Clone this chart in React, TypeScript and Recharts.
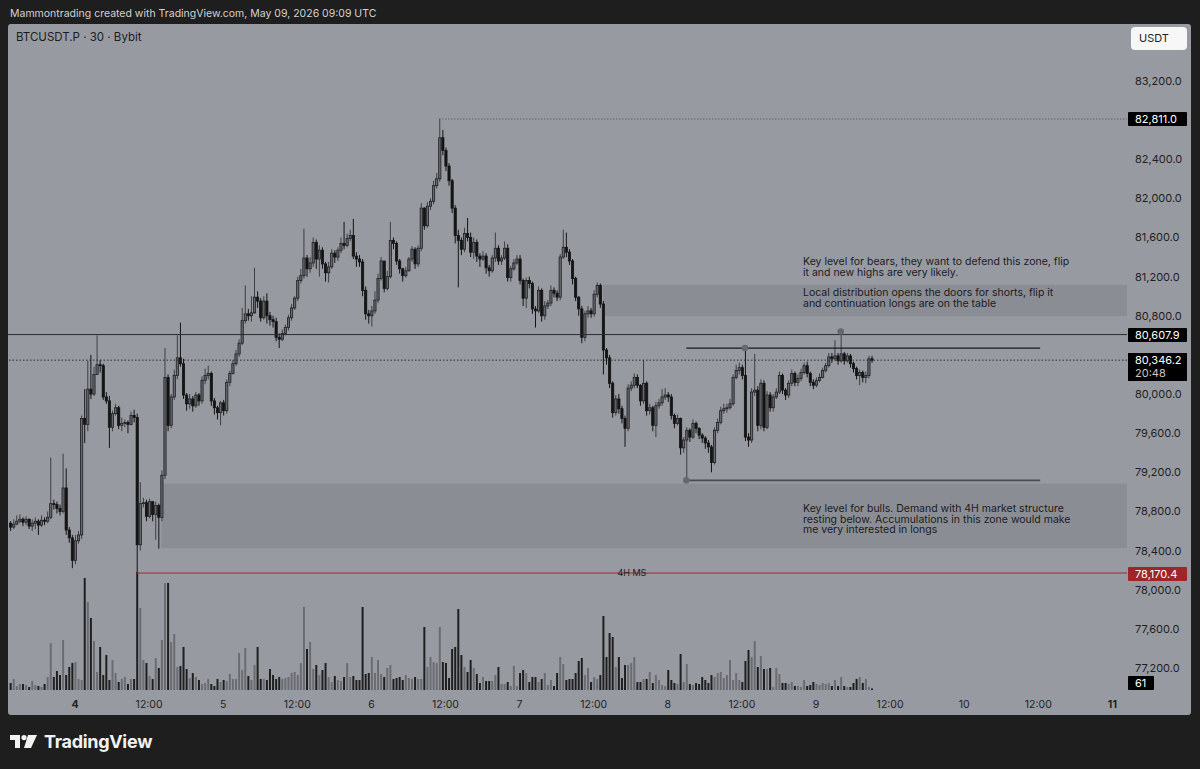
import React from 'react';
import { ComposedChart, Bar, XAxis, YAxis, ReferenceLine, ReferenceArea, ReferenceDot, Cell } from 'recharts';

// BTCUSDT.P 30m candles, t = half-hours from May 4 00:00 UTC
const FIRST_T = -21;
const FIRST_OPEN = 78680;

const closes = [
  78640, 78670, 78700, 78720, 78690, 78720, 78650, 78680, 78700, 78660,
  78710, 78700, 78740, 78880, 78870, 78830, 78800, 79040, 78610, 78530,
  78300, 78500, 78560, 79750, 79690, 80050, 80000, 80200, 80300, 80290,
  79970, 79930, 79660, 79800, 79860, 79680, 79700, 79710, 79690, 79780,
  79760, 78460, 78880, 78890, 78750, 78900, 78770, 78860, 78740, 79170,
  80170, 79680, 79970, 80190, 80370, 80310, 79990, 79900, 79950, 79880,
  79990, 79930, 80140, 80190, 80210, 79930, 79860, 79810, 79910, 79830,
  80120, 80210, 80310, 80410, 80520, 80750, 80820, 80800, 80830, 80990,
  80950, 80780, 80950, 80800, 80760, 80740, 80580, 80560, 80620, 80680,
  80780, 80880, 80980, 81160, 81210, 81390, 81280, 81340, 81550, 81380,
  81470, 81330, 81240, 81300, 81440, 81400, 81470, 81540, 81520, 81590,
  81620, 81410, 81380, 81350, 81060, 80820, 80800, 80850, 80960, 81180,
  81360, 81080, 81200, 81570, 81540, 81360, 81280, 81210, 81260, 81380,
  81480, 81330, 81490, 81900, 81720, 81920, 81970, 82130, 82200, 82620,
  82490, 82330, 82180, 81900, 81620, 81570, 81480, 81640, 81600, 81450,
  81550, 81410, 81380, 81410, 81290, 81260, 81390, 81490, 81360, 81390,
  81490, 81190, 81280, 81340, 81380, 81160, 80980, 81160, 81130, 80870,
  80850, 81060, 80800, 80900, 80930, 81060, 81030, 80990, 81400, 81500,
  81450, 81360, 81180, 80990, 80870, 80580, 80820, 80850, 80820, 81020,
  81110, 80920, 80450, 80370, 80110, 79810, 79950, 79850, 79750, 79650,
  80060, 80090, 80170, 80090, 79930, 80110, 79830, 79860, 79680, 79880,
  79910, 79970, 79990, 79970, 79780, 79700, 79750, 79450, 79530, 79630,
  79560, 79700, 79650, 79580, 79550, 79500, 79460, 79300, 79630, 79710,
  79830, 79850, 79860, 79900, 80170, 80240, 80270, 80190, 79560, 79530,
  80020, 80040, 79680, 80110, 79660, 79990, 79860, 79970, 80020, 80190,
  80040, 79990, 80110, 80210, 80120, 80160, 80220, 80290, 80210, 80120,
  80090, 80140, 80170, 80240, 80290, 80380, 80360, 80390, 80340, 80410,
  80340, 80390, 80310, 80260, 80190, 80220, 80170, 80190, 80360, 80346.2,
];

const highs = [
  78700, 78720, 78760, 78770, 78740, 78750, 78730, 78720, 78740, 78720,
  78760, 78740, 78800, 79350, 78920, 78900, 78870, 79390, 79240, 78640,
  78560, 78560, 78600, 79780, 80050, 80340, 80400, 80280, 80600, 80350,
  80310, 80020, 79980, 79830, 79900, 79880, 79760, 79740, 79730, 79820,
  79840, 79800, 79100, 78940, 78920, 78930, 78900, 78900, 78880, 79220,
  80470, 80200, 80000, 80250, 80600, 80730, 80360, 80010, 80000, 79980,
  80020, 80010, 80180, 80260, 80290, 80230, 79960, 79880, 79930, 79940,
  80150, 80240, 80350, 80450, 80560, 80880, 81110, 80870, 81000, 81290,
  81050, 80980, 81000, 81030, 80840, 80800, 80780, 80620, 80660, 80710,
  80810, 80920, 81000, 81200, 81280, 81690, 81420, 81400, 81600, 81580,
  81520, 81500, 81350, 81350, 81480, 81470, 81500, 81600, 81760, 81640,
  81680, 81790, 81450, 81420, 81380, 81100, 80860, 80900, 81050, 81230,
  81400, 81360, 81260, 81760, 81600, 81560, 81380, 81290, 81300, 81400,
  81510, 81500, 81520, 81950, 81910, 81960, 82000, 82180, 82260, 82811,
  82700, 82520, 82360, 82200, 81930, 81680, 81600, 81700, 81800, 81650,
  81600, 81580, 81440, 81460, 81440, 81320, 81420, 81650, 81520, 81420,
  81560, 81530, 81310, 81380, 81420, 81420, 81180, 81190, 81200, 81150,
  80900, 81100, 81080, 80950, 80960, 81110, 81090, 81060, 81430, 81680,
  81650, 81480, 81380, 81200, 81000, 80900, 80850, 80900, 80880, 81060,
  81140, 81130, 80950, 80470, 80400, 80130, 79990, 80000, 79880, 79780,
  80100, 80130, 80210, 80200, 80100, 80350, 80130, 79900, 79880, 79920,
  79950, 80050, 80060, 80020, 80000, 79800, 79790, 79760, 79560, 79660,
  79650, 79740, 79720, 79660, 79600, 79570, 79530, 79480, 79660, 79750,
  79870, 79900, 79900, 79950, 80200, 80300, 80320, 80300, 80470, 79600,
  80060, 80410, 80080, 80150, 80140, 80030, 80020, 80000, 80060, 80230,
  80210, 80060, 80140, 80250, 80230, 80200, 80260, 80320, 80330, 80230,
  80150, 80170, 80210, 80270, 80320, 80420, 80420, 80550, 80420, 80640,
  80430, 80420, 80410, 80330, 80280, 80250, 80240, 80230, 80390, 80390,
];

const lows = [
  78600, 78620, 78660, 78680, 78650, 78660, 78620, 78600, 78620, 78560,
  78640, 78660, 78680, 78720, 78820, 78780, 78760, 78780, 78560, 78480,
  78220, 78260, 78470, 78520, 79500, 79620, 79950, 79980, 80200, 80220,
  79940, 79900, 79450, 79620, 79780, 79640, 79620, 79660, 79600, 79680,
  79710, 78170, 78400, 78840, 78700, 78730, 78700, 78510, 78420, 78700,
  79130, 79620, 79650, 79940, 80150, 80280, 79950, 79830, 79850, 79820,
  79860, 79880, 79900, 80100, 80150, 79880, 79790, 79740, 79680, 79780,
  79800, 80080, 80200, 80290, 80380, 80500, 80720, 80750, 80740, 80820,
  80880, 80740, 80760, 80720, 80700, 80680, 80540, 80470, 80540, 80600,
  80650, 80750, 80860, 80950, 81130, 81180, 81200, 81240, 81300, 81280,
  81200, 81280, 81150, 81140, 81280, 81340, 81360, 81440, 81480, 81500,
  81560, 81380, 81300, 81300, 81000, 80760, 80720, 80690, 80820, 80930,
  81160, 81040, 81060, 81180, 81480, 81320, 81230, 81150, 81190, 81250,
  81350, 81280, 81300, 81460, 81680, 81700, 81880, 81940, 82100, 82170,
  82440, 82280, 82130, 81850, 81540, 81090, 81420, 81450, 81560, 81400,
  81380, 81350, 81300, 81360, 81230, 81200, 81240, 81350, 81320, 81320,
  81370, 81150, 81150, 81260, 81320, 81120, 80900, 80880, 81080, 80820,
  80680, 80830, 80740, 80760, 80870, 80900, 80990, 80950, 80960, 81380,
  81400, 81320, 81120, 80950, 80800, 80520, 80540, 80780, 80780, 80790,
  80990, 80880, 80200, 80300, 80060, 79760, 79780, 79800, 79700, 79460,
  79620, 80030, 80060, 80060, 79880, 79900, 79780, 79790, 79620, 79560,
  79850, 79880, 79940, 79920, 79740, 79650, 79680, 79380, 79400, 79118,
  79510, 79540, 79600, 79540, 79500, 79440, 79400, 79200, 79280, 79600,
  79690, 79800, 79810, 79840, 79880, 80150, 80200, 80150, 79520, 79460,
  79500, 79980, 79620, 79640, 79620, 79640, 79820, 79820, 79950, 80000,
  80000, 79940, 79960, 80080, 80080, 80080, 80130, 80200, 80170, 80080,
  80050, 80070, 80120, 80160, 80220, 80270, 80320, 80340, 80300, 80320,
  80300, 80320, 80270, 80220, 80150, 80090, 80120, 80110, 80160, 80320,
];

const volumes = [
  280, 440, 160, 240, 240, 200, 120, 360, 200, 160, 120, 240, 520, 1880, 520, 760, 600,
  2000, 600, 920, 1080, 1120, 440, 400, 4480, 3520, 2880,
  1960, 720, 1720, 600, 1400, 400, 1200, 680, 320, 440,
  520, 240, 440, 440, 4720, 3280, 1200, 1080, 560, 440,
  1280, 880, 2000, 4280, 4280, 1920, 2240, 920, 960, 1720,
  840, 480, 680, 520, 400, 240, 280, 440, 240, 160,
  440, 320, 400, 360, 640, 440, 440, 1480, 800,
  1680, 560, 400, 1000, 1720, 440, 440, 400, 840, 600,
  440, 520, 440, 480, 520, 680, 720, 600, 1080, 3320,
  1640, 1920, 840, 1000, 600, 800, 1080, 520, 320, 560,
  400, 360, 520, 1080, 520, 560, 400, 400, 3320, 640,
  680, 1320, 680, 1200, 640, 520, 880, 1000, 440, 480,
  520, 400, 600, 480, 440, 520, 440, 440, 2520, 920,
  1320, 1120, 1080, 2520, 1120, 1080, 480, 1640, 1720, 3240,
  1400, 920, 720, 1200, 880, 640, 280, 520, 360, 360,
  360, 600, 920, 240, 240, 320, 160, 960, 160, 680,
  800, 680, 320, 520, 520, 320, 440, 680, 200, 400,
  160, 680, 1320, 1040, 400, 440, 440, 680, 1160, 1280,
  600, 880, 320, 520, 440, 600, 2960, 1320, 2280, 2120,
  920, 1320, 480, 1000, 1000, 1080, 1320, 320, 320, 440,
  440, 720, 280, 600, 400, 200, 160, 800, 400, 280,
  240, 1440, 320, 1040, 240, 200, 280, 240, 520, 400,
  280, 600, 520, 680, 720, 480, 600, 1200, 400, 680,
  400, 320, 1160, 1600, 1320, 1960, 920, 1360, 840, 840,
  880, 120, 880, 640, 280, 280, 240, 320, 160, 160,
  120, 400, 160, 200, 320, 240, 200, 280, 240, 280,
  160, 400, 160, 520, 160, 120, 120, 280, 440, 520,
  280, 440, 120, 61,
];

// 80,400 and 82,800 sit under the price labels in the reference, so they are left out
const priceTicks = [77200, 77600, 78000, 78400, 78800, 79200, 79600, 80000, 80800, 81200, 81600, 82000, 82400, 83200];
const timeTicks = [0, 24, 48, 72, 96, 120, 144, 168, 192, 216, 240, 264, 288, 312, 336];
const timeLabels = ['4', '12:00', '5', '12:00', '6', '12:00', '7', '12:00', '8', '12:00', '9', '12:00', '10', '12:00', '11'];
const boldLabels = ['4', '11'];

const LAST_PRICE = 80346.2;
const BEAR_LEVEL = 80607.9;
const SESSION_HIGH = 82811;
const MS_4H = 78170.4;
const EQ_HIGHS = 80470;
const EQ_LOW = 79118;
const distZone = [80795, 81118];
const demandZone = [78425, 79085];

const X_DOMAIN: [number, number] = [-21.7, 340.73];
const Y_DOMAIN: [number, number] = [76975, 83772];
const VOL_DOMAIN: [number, number] = [0, 26600];

const BG = '#989aa2';
const ZONE = '#8b8d94';
const BEAR = '#141414';
const BULL_FILL = '#66686e';
const BULL_EDGE = '#1f1f21';
const BULL_WICK = '#3d3e42';
const VOL_UP = '#6a6c72';
const VOL_DOWN = '#1f1f1f';

const data = closes.map((c, i) => {
  const o = i === 0 ? FIRST_OPEN : closes[i - 1];
  const h = Math.max(highs[i], o, c);
  const l = Math.min(lows[i], o, c);
  return { t: FIRST_T + i, open: o, close: c, high: h, low: l, range: [l, h], volume: volumes[i] };
});

const fmt = (v: number) => v.toLocaleString('en-US', { minimumFractionDigits: 1, maximumFractionDigits: 1 });

const Candle = (props: any) => {
  const { x, y, width, height, payload } = props;
  if (!payload || y == null) return null;
  const top = Math.min(y, y + height);
  const h = Math.abs(height);
  const cx = x + width / 2;
  const { open, close, high, low } = payload;
  const span = high - low || 1;
  const toY = (p: number) => top + ((high - p) / span) * h;
  const up = close >= open;
  const b1 = toY(Math.max(open, close));
  const b2 = toY(Math.min(open, close));
  return (
    <g>
      <line x1={cx} x2={cx} y1={top} y2={top + h} stroke={up ? BULL_WICK : BEAR} strokeWidth={1} />
      <rect
        x={cx - 1.1}
        y={b1}
        width={2.2}
        height={Math.max(b2 - b1, 1)}
        fill={up ? BULL_FILL : BEAR}
        stroke={up ? BULL_EDGE : BEAR}
        strokeWidth={0.8}
      />
    </g>
  );
};

const PriceTick = (p: any) => (
  <text x={p.x} y={p.y} dy="0.36em" textAnchor="start" fontSize={11} fill="#1f1f22" fontFamily="Inter, sans-serif">
    {fmt(p.payload.value)}
  </text>
);

const TimeTick = (p: any) => {
  const label = timeLabels[timeTicks.indexOf(p.payload.value)];
  return (
    <text
      x={p.x}
      y={p.y + 10}
      textAnchor="middle"
      fontSize={10.5}
      fontWeight={boldLabels.includes(label) ? 700 : 400}
      fill="#1f1f22"
      fontFamily="Inter, sans-serif"
    >
      {label}
    </text>
  );
};

const abs = (style: React.CSSProperties): React.CSSProperties => ({ position: 'absolute', ...style });

const PriceBox = ({ top, text, bg = '#000', width = 59 }: any) => (
  <div
    style={abs({
      left: 1128,
      top,
      width,
      height: 14,
      background: bg,
      color: '#fff',
      fontSize: 11,
      lineHeight: '14px',
      paddingLeft: 7,
      boxSizing: 'border-box',
      borderRadius: 1,
    })}
  >
    {text}
  </div>
);

const noteStyle: React.CSSProperties = {
  position: 'absolute',
  left: 803,
  fontSize: 10.5,
  lineHeight: '10.5px',
  color: '#1b1b1e',
  whiteSpace: 'pre',
};

export default function App() {
  return (
    <div
      style={{
        position: 'absolute',
        left: 0,
        top: 0,
        width: 1200,
        height: 769,
        background: '#1e1e1e',
        overflow: 'hidden',
        fontFamily: 'Inter, sans-serif',
      }}
    >
      <div style={abs({ left: 10, top: 7, fontSize: 10.5, color: '#d2d2d2', whiteSpace: 'pre' })}>
        Mammontrading created with TradingView.com, May 09, 2026 09:09 UTC
      </div>

      <div style={abs({ left: 8, top: 24, width: 1183, height: 691, background: BG, borderRadius: 3 })}>
        <ComposedChart width={1183} height={691} data={data} margin={{ top: 1, right: 0, bottom: 0, left: 0 }}>
          <XAxis
            xAxisId="p"
            dataKey="t"
            type="number"
            domain={X_DOMAIN}
            allowDataOverflow
            ticks={timeTicks}
            interval={0}
            tick={<TimeTick />}
            axisLine={false}
            tickLine={false}
            height={25}
          />
          <XAxis xAxisId="v" dataKey="t" type="number" domain={X_DOMAIN} allowDataOverflow hide />
          <YAxis
            yAxisId="p"
            orientation="right"
            domain={Y_DOMAIN}
            allowDataOverflow
            ticks={priceTicks}
            interval={0}
            width={64}
            axisLine={false}
            tickLine={false}
            tick={<PriceTick />}
          />
          <YAxis yAxisId="v" domain={VOL_DOMAIN} allowDataOverflow hide />

          <ReferenceArea xAxisId="p" yAxisId="p" x1={171} x2={X_DOMAIN[1]} y1={distZone[0]} y2={distZone[1]} fill={ZONE} fillOpacity={1} stroke="none" />
          <ReferenceArea xAxisId="p" yAxisId="p" x1={28} x2={X_DOMAIN[1]} y1={demandZone[0]} y2={demandZone[1]} fill={ZONE} fillOpacity={1} stroke="none" />

          <Bar xAxisId="v" yAxisId="v" dataKey="volume" barSize={2} isAnimationActive={false}>
            {data.map((d, i) => (
              <Cell key={`v-${i}`} fill={d.close >= d.open ? VOL_UP : VOL_DOWN} />
            ))}
          </Bar>

          <ReferenceLine xAxisId="p" yAxisId="p" y={BEAR_LEVEL} stroke="#2c2c2f" strokeWidth={1} />
          <ReferenceLine xAxisId="p" yAxisId="p" y={LAST_PRICE} stroke="#2c2c2f" strokeWidth={1} strokeDasharray="1.5 2" />
          <ReferenceLine
            xAxisId="p"
            yAxisId="p"
            segment={[{ x: 118, y: SESSION_HIGH }, { x: X_DOMAIN[1], y: SESSION_HIGH }]}
            stroke="#4a4a4e"
            strokeWidth={1}
            strokeDasharray="1 2"
          />
          <ReferenceLine
            xAxisId="p"
            yAxisId="p"
            segment={[{ x: 198, y: EQ_HIGHS }, { x: 312.6, y: EQ_HIGHS }]}
            stroke="#18181a"
            strokeWidth={1.3}
          />
          <ReferenceLine
            xAxisId="p"
            yAxisId="p"
            segment={[{ x: 198, y: EQ_LOW }, { x: 312.6, y: EQ_LOW }]}
            stroke="#4a4b50"
            strokeWidth={1.6}
          />
          <ReferenceLine
            xAxisId="p"
            yAxisId="p"
            segment={[{ x: 20, y: MS_4H }, { x: X_DOMAIN[1], y: MS_4H }]}
            stroke="#a3282d"
            strokeWidth={1}
            label={{ value: '4H MS', position: 'center', fill: '#1c1c1c', fontSize: 9, fontFamily: 'Inter, sans-serif' }}
          />

          <Bar xAxisId="p" yAxisId="p" dataKey="range" barSize={2} shape={(p: any) => <Candle {...p} />} isAnimationActive={false} />

          <ReferenceDot xAxisId="p" yAxisId="p" x={198} y={EQ_LOW} r={3.3} fill="#66686e" stroke="none" />
          <ReferenceDot xAxisId="p" yAxisId="p" x={217} y={EQ_HIGHS} r={3.3} fill="#66686e" stroke="none" />
          <ReferenceDot xAxisId="p" yAxisId="p" x={248} y={80640} r={3.3} fill="#66686e" stroke="none" />
        </ComposedChart>
      </div>

      <div style={abs({ left: 16, top: 30, fontSize: 11.5, color: '#1c1c1f', whiteSpace: 'pre' })}>BTCUSDT.P · 30 · Bybit</div>

      <div
        style={abs({
          left: 1131,
          top: 27,
          width: 56,
          height: 23,
          background: '#f7f7f8',
          borderRadius: 4,
          fontSize: 11,
          lineHeight: '23px',
          color: '#222',
          paddingLeft: 8,
          boxSizing: 'border-box',
        })}
      >
        USDT
      </div>

      <div style={{ ...noteStyle, top: 257 }}>{'Key level for bears, they want to defend this zone, flip\nit and new highs are very likely.'}</div>
      <div style={{ ...noteStyle, top: 288 }}>{'Local distribution opens the doors for shorts, flip it\nand continuation longs are on the table'}</div>
      <div style={{ ...noteStyle, top: 504 }}>
        {'Key level for bulls. Demand with 4H market structure\nresting below. Accumulations in this zone would make\nme very interested in longs'}
      </div>

      <PriceBox top={112} text={fmt(SESSION_HIGH)} />
      <PriceBox top={328} text={fmt(BEAR_LEVEL)} />
      <div
        style={abs({
          left: 1128,
          top: 353,
          width: 59,
          height: 28,
          background: '#000',
          color: '#fff',
          fontSize: 11,
          lineHeight: '13px',
          padding: '1px 0 0 7px',
          boxSizing: 'border-box',
        })}
      >
        <div>{fmt(LAST_PRICE)}</div>
        <div style={{ color: '#c9c9c9' }}>20:48</div>
      </div>
      <PriceBox top={567} text={fmt(MS_4H)} bg="#9e2529" />
      <PriceBox top={676} text={String(volumes[volumes.length - 1])} width={26} />

      <div style={abs({ left: 10, top: 733, display: 'flex', alignItems: 'center' })}>
        <svg width={28} height={14} viewBox="0 0 28 14">
          <path d="M0 0 H10 V13 H5 V5 H0 Z" fill="#f2f2f2" />
          <circle cx={14} cy={2.6} r={2.6} fill="#f2f2f2" />
          <path d="M18 0 H27 L21 13 H14 Z" fill="#f2f2f2" />
        </svg>
        <span style={{ marginLeft: 6, fontSize: 18, fontWeight: 700, color: '#f2f2f2', letterSpacing: -0.3, lineHeight: '18px' }}>
          TradingView
        </span>
      </div>
    </div>
  );
}
